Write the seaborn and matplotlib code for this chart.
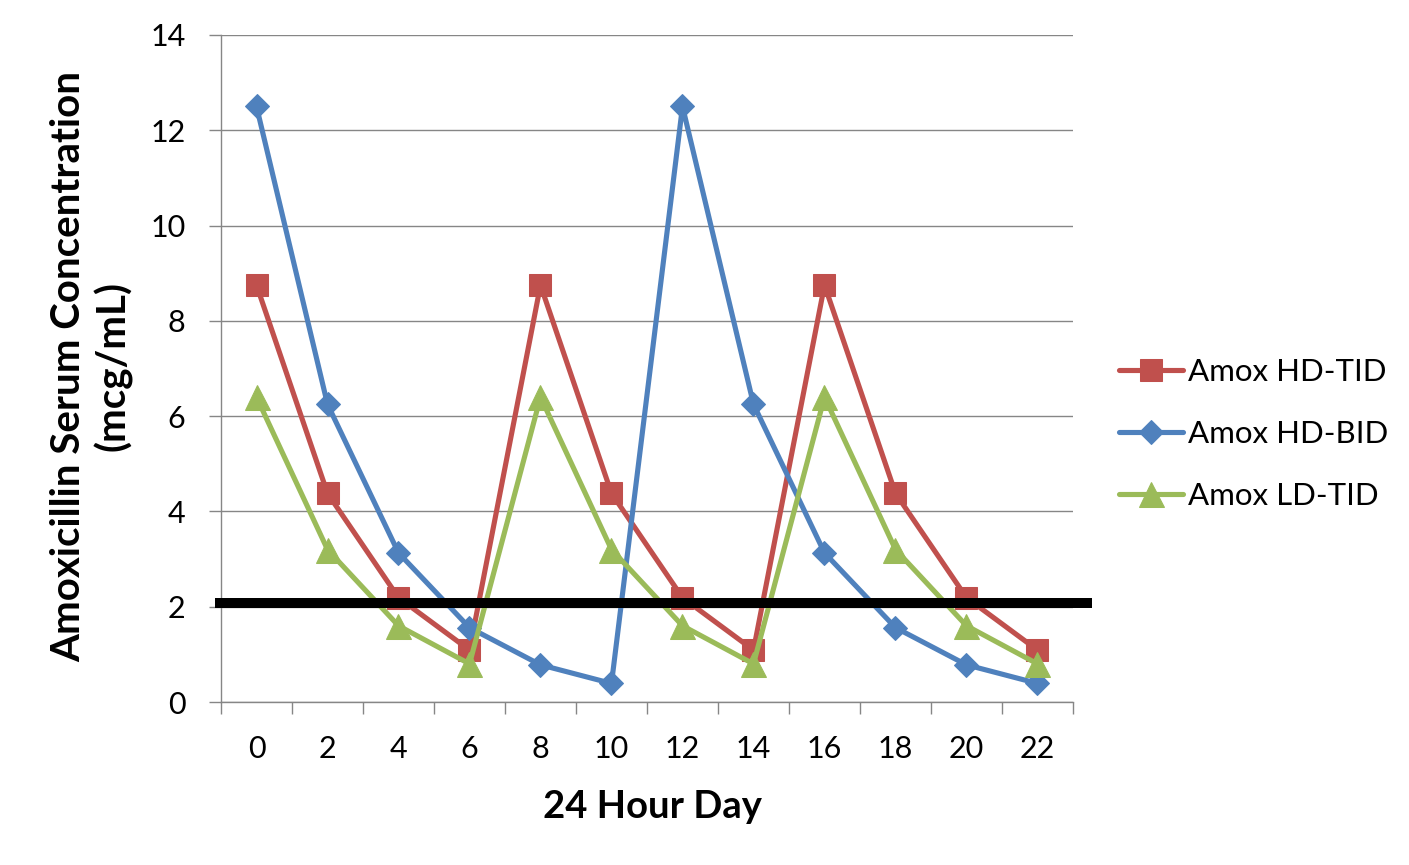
import matplotlib
matplotlib.use("Agg")
import matplotlib.pyplot as plt
import seaborn as sns
import pandas as pd
import numpy as np

hours = ["0", "2", "4", "6", "8", "10", "12", "14", "16", "18", "20", "22"]
hd_tid = [8.75, 4.38, 2.19, 1.09, 8.75, 4.38, 2.19, 1.09, 8.75, 4.38, 2.19, 1.09]
hd_bid = [12.5, 6.25, 3.13, 1.56, 0.78, 0.39, 12.5, 6.25, 3.13, 1.56, 0.78, 0.39]
ld_tid = [6.4, 3.2, 1.6, 0.8, 6.4, 3.2, 1.6, 0.8, 6.4, 3.2, 1.6, 0.8]
series_names = ["Amox HD-TID", "Amox HD-BID", "Amox LD-TID"]
threshold = 2.08

colors = {"Amox HD-TID": "#C0504D", "Amox HD-BID": "#4F81BD", "Amox LD-TID": "#9BBB59"}
markers = {"Amox HD-TID": "s", "Amox HD-BID": "D", "Amox LD-TID": "^"}
msizes = {"Amox HD-TID": 16.5, "Amox HD-BID": 12.5, "Amox LD-TID": 18}

sns.set_style("white")
plt.rcParams["font.family"] = ["Lato", "DejaVu Sans"]
plt.rcParams["text.color"] = "black"
plt.rcParams["xtick.labelcolor"] = "black"
plt.rcParams["ytick.labelcolor"] = "black"

fig = plt.figure(figsize=(14.09, 8.65), dpi=100)
ax = fig.add_axes([221/1409, 1-702/865, (1073-221)/1409, (702-35)/865])

pos = np.arange(len(hours))
for name, vals in zip(series_names, [hd_tid, hd_bid, ld_tid]):
    df = pd.DataFrame({"pos": pos, "val": vals})
    sns.lineplot(data=df, x="pos", y="val", ax=ax, color=colors[name],
                 marker=markers[name], markersize=msizes[name],
                 markeredgecolor=colors[name], linewidth=3.7, label=name,
                 legend=False, zorder=3)

ax.plot([-0.585, 11.77], [threshold, threshold], color="black", lw=7.2,
        solid_capstyle="butt", clip_on=False, zorder=5)

ax.set_xlim(-0.5, 11.5)
ax.set_ylim(0, 14)
ax.set_yticks(np.arange(0, 15, 2))
ax.set_yticklabels([str(v) for v in range(0, 15, 2)])
ax.grid(axis="y", color="#868686", lw=1)
ax.set_axisbelow(True)

ax.set_xticks(np.arange(-0.5, 12, 1))
ax.set_xticklabels([])
ax.set_xticks(pos, minor=True)
ax.set_xticklabels(hours, minor=True)
ax.tick_params(axis="x", which="major", direction="out", length=8.6, width=1,
               color="#868686", bottom=True)
ax.tick_params(axis="x", which="minor", length=0, pad=24, labelsize=22,
               labelcolor="black")
ax.tick_params(axis="y", direction="out", length=8.6, width=1, color="#868686",
               left=True, pad=17, labelsize=22, labelcolor="black")

for s in ["top", "right"]:
    ax.spines[s].set_visible(False)
for s in ["left", "bottom"]:
    ax.spines[s].set_color("#868686")
    ax.spines[s].set_linewidth(1)

ax.set_xlabel("")
ax.set_ylabel("")
fig.text(652/1409, 1-807/865, "24 Hour Day", ha="center", va="center",
         fontsize=27.5, fontweight="bold", color="black")
fig.text(91/1409, 1-366/865, "Amoxicillin Serum Concentration\n(mcg/mL)",
         ha="center", va="center", rotation=90, fontsize=29,
         fontweight="bold", linespacing=1.2, multialignment="center",
         color="black")

leg = ax.legend(loc="center left", bbox_to_anchor=(1119/1409, 1-434/865),
                bbox_transform=fig.transFigure, frameon=False, fontsize=22.5,
                handlelength=2.05, handletextpad=0.16, labelspacing=1.1,
                borderaxespad=0, borderpad=0)
for t in leg.get_texts():
    t.set_color("black")

fig.savefig("out.png", dpi=100)
